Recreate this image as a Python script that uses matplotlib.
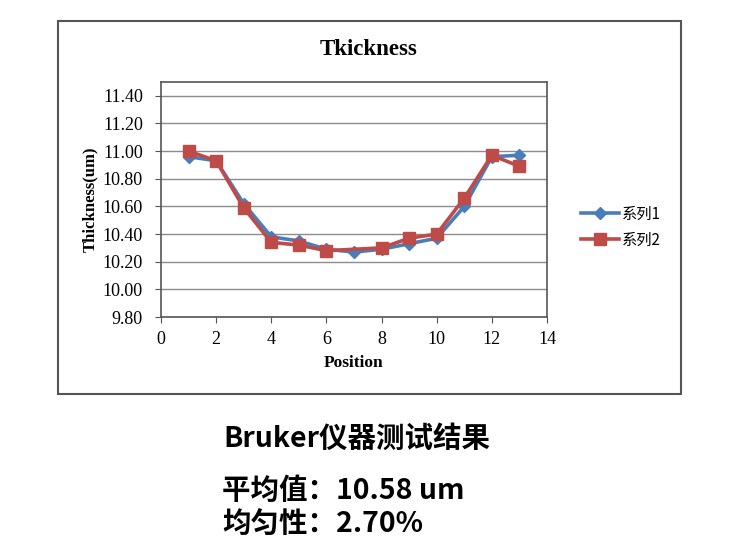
import numpy as np
import matplotlib.pyplot as plt
from matplotlib.patches import Rectangle

# Datos
pos1 = [1, 2, 3, 4, 5, 6, 7, 8, 9, 10, 11, 12, 13]
serie1 = [10.96, 10.93, 10.62, 10.38, 10.35, 10.29, 10.27, 10.29, 10.33, 10.37, 10.60, 10.96, 10.97]
pos2 = [1, 2, 3, 4, 5, 6, 8, 9, 10, 11, 12, 13]
serie2 = [11.00, 10.93, 10.59, 10.34, 10.32, 10.28, 10.30, 10.37, 10.40, 10.66, 10.97, 10.89]
nombres = ["系列1", "系列2"]
yticks = [9.8, 10.0, 10.2, 10.4, 10.6, 10.8, 11.0, 11.2, 11.4]
xticks = [0, 2, 4, 6, 8, 10, 12, 14]

serif = ['Liberation Serif', 'DejaVu Serif']
cjk = ['Noto Sans CJK SC', 'DejaVu Sans']

W, H = 738, 552
fig = plt.figure(figsize=(W / 100, H / 100), dpi=100)

# Marco exterior del grafico
fig.patches.append(Rectangle((58 / W, 1 - 394 / H), (681 - 58) / W, (394 - 21) / H,
                             transform=fig.transFigure, fill=False,
                             edgecolor='#555555', linewidth=1.5))

ax = fig.add_axes([161 / W, 1 - 317 / H, (547 - 161) / W, (317 - 82) / H])

ax.plot(pos1, serie1, color='#4A7EBB', linewidth=2.6, marker='D', markersize=6.5,
        label=nombres[0])
ax.plot(pos2, serie2, color='#BE4B48', linewidth=2.6, marker='s', markersize=8,
        label=nombres[1])

ax.set_xlim(0, 14)
ax.set_ylim(9.8, 11.5)
ax.set_xticks(xticks)
ax.set_yticks(yticks)
ax.set_xticklabels([str(t) for t in xticks], fontfamily=serif, fontsize=13)
ax.set_yticklabels(["%.2f" % t for t in yticks], fontfamily=serif, fontsize=13)
ax.grid(axis='y', color='#8c8c8c', linewidth=1.0)
ax.set_axisbelow(True)
ax.tick_params(axis='y', direction='out', length=4, color='#555555', pad=9)
ax.tick_params(axis='x', direction='out', length=4, color='#555555', pad=6)
for s in ax.spines.values():
    s.set_color('#555555')
    s.set_linewidth(1.2)

ax.set_xlabel("Position", fontfamily=serif, fontweight='bold', fontsize=12.5, labelpad=5)
ax.set_ylabel("Thickness(um)", fontfamily=serif, fontweight='bold', fontsize=12, labelpad=3)

fig.text(369 / W, 1 - 49 / H, "Tkickness", fontfamily=serif, fontweight='bold',
         fontsize=16.5, ha='center', va='center')

leg = ax.legend(loc='center left', bbox_to_anchor=(575 / W, 1 - 227 / H),
                bbox_transform=fig.transFigure, frameon=False,
                prop={'family': cjk, 'size': 11}, handlelength=2.5,
                handletextpad=0.2, labelspacing=0.6, borderaxespad=0)

# Textos inferiores
fig.text(357 / W, 1 - 439 / H, "Bruker仪器测试结果", fontfamily=cjk, fontweight='bold',
         fontsize=20.5, ha='center', va='center')
fig.text(222 / W, 1 - 491 / H, "平均值：10.58 um", fontfamily=cjk, fontweight='bold',
         fontsize=20.5, ha='left', va='center')
fig.text(222 / W, 1 - 524 / H, "均匀性：2.70%", fontfamily=cjk, fontweight='bold',
         fontsize=20.5, ha='left', va='center')

plt.savefig("out.png", dpi=100)
